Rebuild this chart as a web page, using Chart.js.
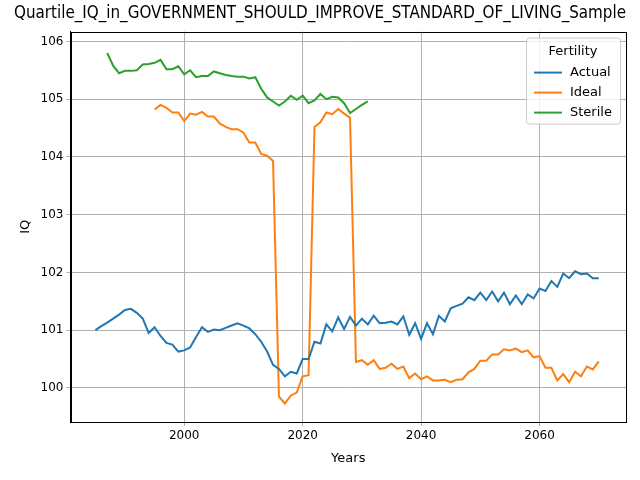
<!DOCTYPE html>
<html><head><meta charset="utf-8">
<script src="https://cdn.jsdelivr.net/npm/chart.js@4"></script>
<style>html,body{margin:0;padding:0;background:#fff}#w{width:640px;height:480px}</style>
</head><body><div id="w"><canvas id="c" width="640" height="480"></canvas></div>
<script>
const actualStart = 1985;
const actualValues = [101.0,101.07,101.13,101.2,101.27,101.35,101.37,101.3,101.2,100.95,101.05,100.9,100.78,100.75,100.63,100.65,100.7,100.88,101.05,100.97,101.01,101.0,101.04,101.08,101.12,101.08,101.03,100.93,100.8,100.63,100.4,100.33,100.2,100.28,100.25,100.5,100.5,100.8,100.77,101.1,100.98,101.22,101.02,101.23,101.08,101.2,101.1,101.25,101.12,101.13,101.15,101.1,101.24,100.92,101.12,100.85,101.12,100.93,101.25,101.15,101.38,101.42,101.46,101.57,101.52,101.65,101.52,101.67,101.5,101.65,101.45,101.6,101.45,101.62,101.55,101.72,101.68,101.85,101.75,101.98,101.9,102.02,101.97,101.98,101.9,101.9];
const idealStart = 1995;
const idealValues = [104.82,104.9,104.85,104.77,104.77,104.62,104.75,104.73,104.78,104.7,104.7,104.58,104.52,104.48,104.48,104.42,104.25,104.25,104.05,104.02,103.93,99.85,99.73,99.87,99.92,100.2,100.22,104.52,104.6,104.77,104.74,104.83,104.75,104.68,100.45,100.48,100.4,100.48,100.33,100.35,100.42,100.33,100.37,100.17,100.25,100.15,100.2,100.13,100.13,100.14,100.1,100.14,100.15,100.27,100.33,100.47,100.47,100.58,100.58,100.67,100.65,100.68,100.62,100.65,100.53,100.55,100.35,100.35,100.13,100.24,100.1,100.28,100.2,100.37,100.32,100.46];
const sterileStart = 1987;
const sterileValues = [105.8,105.58,105.45,105.49,105.49,105.5,105.6,105.61,105.63,105.68,105.52,105.52,105.57,105.43,105.5,105.38,105.4,105.4,105.48,105.45,105.42,105.4,105.39,105.39,105.36,105.38,105.18,105.03,104.96,104.89,104.96,105.06,104.99,105.06,104.93,104.98,105.09,105.0,105.04,105.03,104.93,104.76,104.83,104.9,104.96];
const seriesNames = ['Actual','Ideal','Sterile'];
const colors = ['#1f77b4','#ff7f0e','#2ca02c'];
const titleText = 'Quartile_IQ_in_GOVERNMENT_SHOULD_IMPROVE_STANDARD_OF_LIVING_Sample';
const toPts = (s, v) => v.map((y, i) => ({x: s + i, y}));
const F = 'DejaVu Sans';

const legendPlugin = {
  id: 'lg',
  afterDraw(ch) {
    const ctx = ch.ctx, a = ch.chartArea;
    ctx.save();
    ctx.strokeStyle = '#000'; ctx.lineWidth = 1;
    ctx.strokeRect(Math.round(a.left) + .5, Math.round(a.top) + .5, Math.round(a.right - a.left), Math.round(a.bottom - a.top));
    const w = 94, h = 86, x = a.right - w - 6, y = a.top + 6;
    ctx.fillStyle = 'rgba(255,255,255,0.8)'; ctx.strokeStyle = '#ccc';
    ctx.beginPath(); ctx.roundRect(x + .5, y + .5, w, h, 3); ctx.fill(); ctx.stroke();
    ctx.fillStyle = '#000'; ctx.font = '13px ' + F; ctx.textAlign = 'center'; ctx.textBaseline = 'middle';
    ctx.fillText('Fertility', x + w / 2, y + 14);
    ctx.textAlign = 'left';
    seriesNames.forEach((n, i) => {
      const yy = y + 35 + i * 20;
      ctx.strokeStyle = colors[i]; ctx.lineWidth = 2;
      ctx.beginPath(); ctx.moveTo(x + 8, yy); ctx.lineTo(x + 36, yy); ctx.stroke();
      ctx.fillText(n, x + 44, yy);
    });
    ctx.restore();
  }
};

new Chart(document.getElementById('c'), {
  type: 'line',
  data: { datasets: [
    {label: seriesNames[0], data: toPts(actualStart, actualValues)},
    {label: seriesNames[1], data: toPts(idealStart, idealValues)},
    {label: seriesNames[2], data: toPts(sterileStart, sterileValues)}
  ].map((d, i) => Object.assign(d, {borderColor: colors[i], backgroundColor: colors[i], borderWidth: 2, pointRadius: 0, tension: 0, fill: false})) },
  options: {
    responsive: false, animation: false,
    layout: {padding: {left: 14, right: 14, top: 0, bottom: 10}},
    plugins: {
      legend: {display: false}, tooltip: {enabled: false},
      title: {display: true, text: titleText, color: '#000', font: {family: F, size: 18, weight: 'normal'}, padding: {top: 3, bottom: 7}}
    },
    scales: {
      x: {type: 'linear', min: 1980.8, max: 2074.6,
        ticks: {stepSize: 20, color: '#000', font: {family: F, size: 12}, callback: v => v % 20 === 0 ? String(v) : null, maxRotation: 0},
        grid: {color: '#b0b0b0', drawTicks: true, tickLength: 4},
        border: {color: '#000'},
        title: {display: true, text: 'Years', color: '#000', font: {family: F, size: 13}}},
      y: {min: 99.41, max: 106.17,
        ticks: {stepSize: 1, color: '#000', font: {family: F, size: 12}, callback: v => Number.isInteger(v) ? String(v) : null},
        afterBuildTicks: s => { s.ticks = [100,101,102,103,104,105,106].map(v => ({value: v})); },
        grid: {color: '#b0b0b0', tickLength: 4},
        border: {color: '#000'},
        title: {display: true, text: 'IQ', color: '#000', font: {family: F, size: 13}}}
    }
  },
  plugins: [legendPlugin]
});
</script></body></html>
